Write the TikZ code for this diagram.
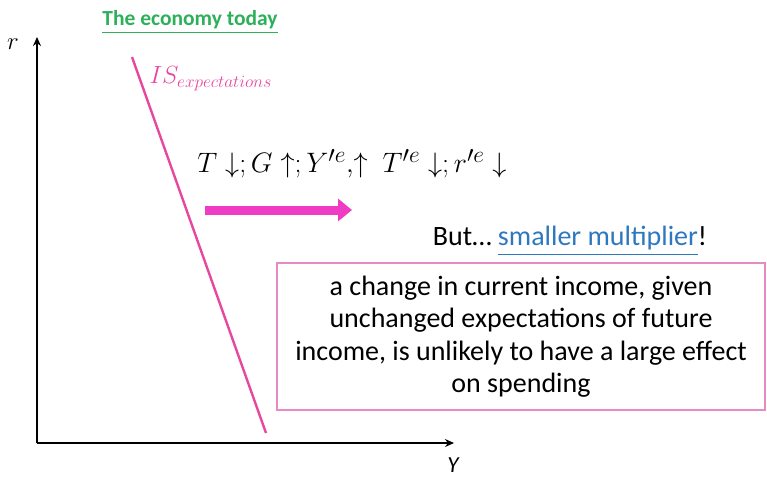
\documentclass[tikz,border=0pt]{standalone}
\usepackage{amsmath,amssymb}
\usepackage{fontspec}
\setmainfont{Carlito}
\usepackage{xcolor}
\usepackage{tikz}
\usetikzlibrary{arrows.meta,positioning}
\definecolor{cAxis}{HTML}{000000}
\definecolor{cIS}{HTML}{E8479E}
\definecolor{cShift}{HTML}{F03CC4}
\definecolor{cTitle}{HTML}{2DB05A}
\definecolor{cLink}{HTML}{2E78C0}
\definecolor{cFrame}{HTML}{E58CC6}
\tikzset{
  axis/.style  = {draw=cAxis, line width=2.4pt, -{Stealth[length=9pt,width=8pt]}},
  curve/.style = {draw=cIS, line width=2.4pt},
  push/.style  = {draw=cShift, line width=9pt, -{Triangle[length=14pt,width=22pt]}},
  ttl/.style   = {font=\fontsize{21.5}{24}\selectfont\bfseries, text=cTitle},
  txt/.style   = {font=\fontsize{28}{32}\selectfont, align=center, inner sep=0pt},
  note/.style  = {rectangle, draw=cFrame, line width=1.4pt, minimum width=488pt,
                  minimum height=147pt, align=center,
                  font=\fontsize{28}{32.5}\selectfont},
}

\begin{document}
\begin{tikzpicture}[x=1pt,y=-1pt]
  \useasboundingbox (0,0) rectangle (767,483);
  \coordinate (o) at (37,443);
  \coordinate (rtop) at (37,37);
  \coordinate (yend) at (454,443);
  \coordinate (is1) at (132,57);
  \coordinate (is2) at (266,433);
  \coordinate (a1) at (205,210);
  \coordinate (a2) at (352,210);

  \draw[axis] (o) -- (rtop);
  \draw[axis] (o) -- (yend);
  \draw[curve] (is1) -- (is2);
  \draw[push] (a1) -- (a2);

  \node (rlab) at (13,44) {\fontsize{24}{26}\selectfont$r$};
  \node (ylab) at (453,465) {\fontsize{23}{25}\selectfont\itshape Y};
  \node[ttl] (title) at (190,22) {\underline{The economy today}};
  \node[anchor=west, text=cIS] (islab) at (146,79)
    {\fontsize{23.5}{26}\selectfont$IS_{expectations}$};
  \node[txt] (policy) at (352,164)
    {\scalebox{1.13}{$T\downarrow;G\uparrow;Y'^{e},\!\uparrow\ T'^{e}\downarrow;r'^{e}\downarrow$}};
  \node[txt] (but) at (570,241)
    {But\dots\ \textcolor{cLink}{\underline{smaller multiplier}}!};
  \node[note] (box) at (521,336.5)
    {a change in current income, given\\
     unchanged expectations of future\\
     income, is unlikely to have a large effect\\
     on spending};
\end{tikzpicture}
\end{document}
